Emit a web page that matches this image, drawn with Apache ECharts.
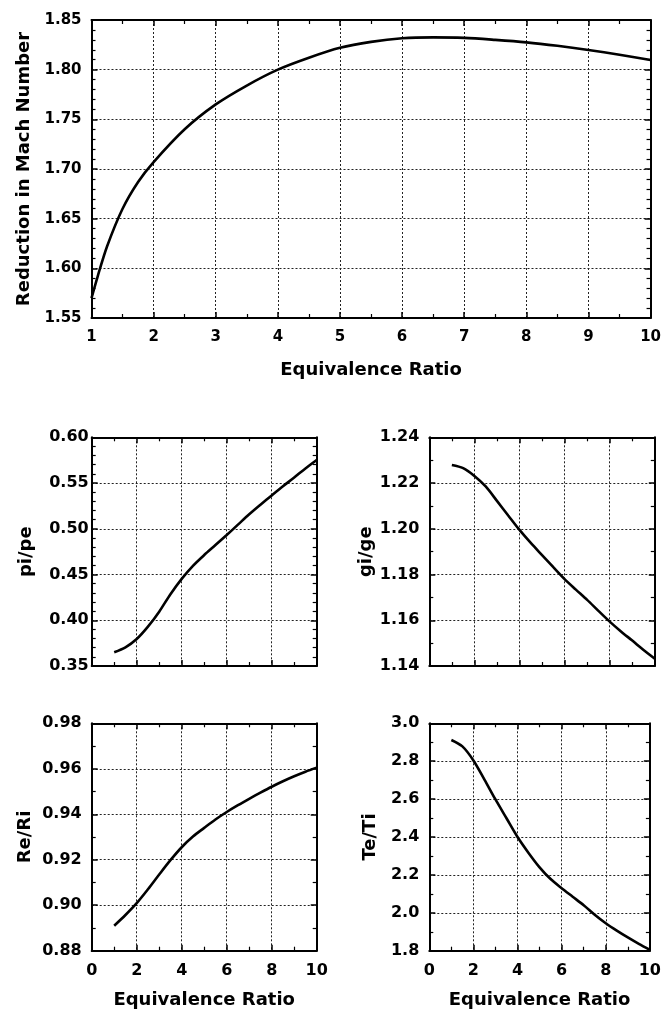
<!DOCTYPE html>
<html>
<head>
<meta charset="utf-8">
<script src="https://cdn.jsdelivr.net/npm/echarts@6/dist/echarts.min.js"></script>
<style>
html,body{margin:0;padding:0;background:#fff;}
#c{width:664px;height:1013px;}
</style>
</head>
<body>
<div id="c"></div>
<script>
// ---- data ----
const machX = [1, 1.1, 1.25, 1.5, 1.75, 2, 2.5, 3, 3.5, 4, 4.5, 5, 5.5, 6, 6.5, 7, 7.5, 8, 8.5, 9, 9.5, 10];
const machY = [1.570, 1.592, 1.622, 1.660, 1.687, 1.707, 1.740, 1.765, 1.784, 1.800, 1.812, 1.822, 1.828, 1.8316, 1.8325, 1.832, 1.830, 1.8275, 1.824, 1.8198, 1.815, 1.8097];

const smallX = [1, 1.5, 2, 2.5, 3, 3.5, 4, 4.5, 5, 5.5, 6, 6.5, 7, 7.5, 8, 8.5, 9, 9.5, 10];
const pipeY = [0.365, 0.3704, 0.3795, 0.393, 0.4094, 0.4285, 0.4453, 0.4595, 0.4713, 0.4822, 0.4932, 0.5045, 0.5158, 0.5263, 0.5365, 0.5465, 0.556, 0.566, 0.5752];
const gigeY = [1.2279, 1.2265, 1.2231, 1.2185, 1.2122, 1.2058, 1.1995, 1.1938, 1.1885, 1.1832, 1.178, 1.1734, 1.1689, 1.1641, 1.1594, 1.1551, 1.1511, 1.147, 1.1432];
const reriY = [0.891, 0.8957, 0.9009, 0.9070, 0.9135, 0.9198, 0.9255, 0.9302, 0.9340, 0.9377, 0.9410, 0.9440, 0.9468, 0.9495, 0.9521, 0.9545, 0.9567, 0.9587, 0.9605];
const tetiY = [2.912, 2.878, 2.804, 2.703, 2.598, 2.499, 2.40, 2.316, 2.24, 2.178, 2.130, 2.085, 2.04, 1.99, 1.945, 1.906, 1.870, 1.836, 1.804];

const xName = 'Equivalence Ratio';
const yNames = ['Reduction in Mach Number', 'pi/pe', 'gi/ge', 'Re/Ri', 'Te/Ti'];

// ---- chart ----
const FONT = '"DejaVu Sans", "Liberation Sans", Arial, sans-serif';
const pairs = (xs, ys) => xs.map((x, i) => [x, ys[i]]);

const grids = [
  {left: 91.5, top: 20, width: 562.5, height: 298},
  {left: 91.7, top: 437.3, width: 225, height: 228.7},
  {left: 429.3, top: 437.3, width: 225.5, height: 228.7},
  {left: 91.7, top: 723.3, width: 225, height: 227.4},
  {left: 429.3, top: 723.3, width: 225, height: 227.4}
];

const axLine = {show: true, onZero: false, lineStyle: {color: '#000', width: 2}};
const tick = {show: true, inside: true, length: 6, lineStyle: {color: '#000', width: 1.5}};
const minor = (n) => ({show: true, splitNumber: n, length: 4, lineStyle: {color: '#000', width: 1.2}});
const grid = {show: true, lineStyle: {color: '#222', width: 1, type: [2, 2]}};

const xCfg = [
  {min: 1, max: 10, interval: 1, minorN: 2, labels: true, nameGap: 43, fs: 15},
  {min: 0, max: 10, interval: 2, minorN: 2, labels: false, fs: 16},
  {min: 0, max: 10, interval: 2, minorN: 2, labels: false, fs: 16},
  {min: 0, max: 10, interval: 2, minorN: 2, labels: true, nameGap: 41, fs: 16},
  {min: 0, max: 10, interval: 2, minorN: 2, labels: true, nameGap: 41, fs: 16}
];
const yCfg = [
  {min: 1.55, max: 1.85, interval: 0.05, minorN: 5, dec: 2, margin: 10, nameGap: 57, fs: 15},
  {min: 0.35, max: 0.60, interval: 0.05, minorN: 5, dec: 2, margin: 3, nameGap: 56, fs: 16},
  {min: 1.14, max: 1.24, interval: 0.02, minorN: 2, dec: 2, margin: 10, nameGap: 54, fs: 16},
  {min: 0.88, max: 0.98, interval: 0.02, minorN: 2, dec: 2, margin: 10, nameGap: 57, fs: 16},
  {min: 1.8, max: 3.0, interval: 0.2, minorN: 2, dec: 1, margin: 10, nameGap: 50, fs: 16}
];
const seriesData = [pairs(machX, machY), pairs(smallX, pipeY), pairs(smallX, gigeY), pairs(smallX, reriY), pairs(smallX, tetiY)];

const xAxis = [], yAxis = [], series = [];
grids.forEach((g, i) => {
  const xc = xCfg[i], yc = yCfg[i];
  xAxis.push({
    type: 'value', gridIndex: i, position: 'bottom', min: xc.min, max: xc.max, interval: xc.interval,
    axisLine: axLine, axisTick: tick, minorTick: minor(xc.minorN), splitLine: grid,
    axisLabel: {show: xc.labels, margin: 12, color: '#000', fontFamily: FONT, fontWeight: 'bold', fontSize: xc.fs},
    name: xc.labels ? xName : '', nameLocation: 'middle', nameGap: xc.nameGap || 30,
    nameTextStyle: {color: '#000', fontFamily: FONT, fontWeight: 'bold', fontSize: 18}
  });
  xAxis.push({
    type: 'value', gridIndex: i, position: 'top', min: xc.min, max: xc.max, interval: xc.interval,
    axisLine: axLine, axisTick: tick, minorTick: minor(xc.minorN), splitLine: {show: false},
    axisLabel: {show: false}
  });
  yAxis.push({
    type: 'value', gridIndex: i, position: 'left', min: yc.min, max: yc.max, interval: yc.interval,
    axisLine: axLine, axisTick: tick, minorTick: minor(yc.minorN), splitLine: grid,
    axisLabel: {margin: yc.margin, color: '#000', fontFamily: FONT, fontWeight: 'bold', fontSize: yc.fs,
      formatter: (v) => v.toFixed(yc.dec)},
    name: yNames[i], nameLocation: 'middle', nameGap: yc.nameGap, nameRotate: 90,
    nameTextStyle: {color: '#000', fontFamily: FONT, fontWeight: 'bold', fontSize: 18}
  });
  yAxis.push({
    type: 'value', gridIndex: i, position: 'right', min: yc.min, max: yc.max, interval: yc.interval,
    axisLine: axLine, axisTick: tick, minorTick: minor(yc.minorN), splitLine: {show: false},
    axisLabel: {show: false}
  });
  series.push({
    type: 'line', xAxisIndex: i * 2, yAxisIndex: i * 2, data: seriesData[i],
    showSymbol: false, smooth: 0.3, silent: true,
    lineStyle: {color: '#000', width: 2.6}
  });
});

const chart = echarts.init(document.getElementById('c'), null, {renderer: 'canvas'});
chart.setOption({
  backgroundColor: '#fff',
  animation: false,
  grid: grids.map(g => Object.assign({containLabel: false}, g)),
  xAxis, yAxis, series
});
</script>
</body>
</html>
